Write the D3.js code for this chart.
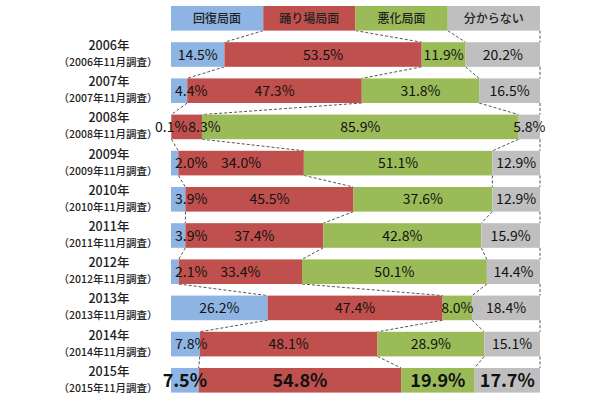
<!DOCTYPE html>
<html>
<head>
<meta charset="utf-8">
<script src="https://cdn.jsdelivr.net/npm/d3@7"></script>
<style>
  body { margin: 0; background: #fff; }
  svg text { font-family: "Noto Sans CJK JP", "Noto Sans", sans-serif; }
</style>
</head>
<body>
<svg id="viz"></svg>
<script>
const svg = d3.select("#viz");
const width = 610;
const height = 400;
svg.attr("width", width).attr("height", height);

// data
const seriesNames = ["回復局面", "踊り場局面", "悪化局面", "分からない"];
const years = ["2006", "2007", "2008", "2009", "2010", "2011", "2012", "2013", "2014", "2015"];
const recovery = [14.5, 4.4, 0.1, 2.0, 3.9, 3.9, 2.1, 26.2, 7.8, 7.5];
const plateau  = [53.5, 47.3, 8.3, 34.0, 45.5, 37.4, 33.4, 47.4, 48.1, 54.8];
const worsening = [11.9, 31.8, 85.9, 51.1, 37.6, 42.8, 50.1, 8.0, 28.9, 19.9];
const unknown  = [20.2, 16.5, 5.8, 12.9, 12.9, 15.9, 14.4, 18.4, 15.1, 17.7];

const colors = ["#8DB4E2", "#C0504D", "#9BBB59", "#BFBFBF"];

// rows: header (legend) + one per year
const rows = [{ key: "header", values: [25, 25, 25, 25], labels: seriesNames }]
  .concat(years.map((y, i) => {
    const v = [recovery[i], plateau[i], worsening[i], unknown[i]];
    return { key: y, values: v, labels: v.map(d => d.toFixed(1) + "%") };
  }));

// cumulative, normalised to 100 like a 100% stacked bar
rows.forEach(r => {
  const total = d3.sum(r.values);
  let acc = 0;
  r.segs = r.values.map((v, i) => {
    const s = { i, x0: acc / total * 100, x1: (acc + v) / total * 100, label: r.labels[i] };
    acc += v;
    return s;
  });
});

const x = d3.scaleLinear().domain([0, 100]).range([171, 540]);
const y = d3.scaleBand().domain(rows.map(r => r.key)).range([6, 392.6]).paddingInner(0.32).paddingOuter(0);
const bh = y.bandwidth();

// series lines (dashed connectors between bars)
const lines = svg.append("g");
for (let r = 0; r < rows.length - 1; r++) {
  const a = rows[r], b = rows[r + 1];
  for (let i = 0; i < 4; i++) {
    lines.append("line")
      .attr("x1", x(a.segs[i].x1)).attr("y1", y(a.key) + bh)
      .attr("x2", x(b.segs[i].x1)).attr("y2", y(b.key))
      .attr("stroke", "#555").attr("stroke-width", 1)
      .attr("stroke-dasharray", "3,2");
  }
}

// bars
const rowG = svg.selectAll("g.row").data(rows).enter()
  .append("g").attr("class", "row")
  .attr("transform", d => `translate(0,${y(d.key)})`);

rowG.selectAll("rect").data(d => d.segs).enter()
  .append("rect")
  .attr("x", d => x(d.x0))
  .attr("width", d => Math.max(0, x(d.x1) - x(d.x0)))
  .attr("y", 0)
  .attr("height", bh)
  .attr("fill", d => colors[d.i]);

// segment labels
rowG.each(function(r) {
  const g = d3.select(this);
  const isHeader = r.key === "header";
  const bold = r.key === "2015";
  let prevEnd = -Infinity;
  r.segs.forEach(s => {
    const t = g.append("text")
      .attr("y", bh / 2)
      .attr("dy", "0.36em")
      .attr("text-anchor", "middle")
      .attr("fill", isHeader ? "#222" : "#111")
      .attr("font-size", isHeader ? 12 : bold ? 18 : 14)
      .attr("font-weight", bold ? "bold" : isHeader ? 500 : "normal")
      .text(s.label);
    const w = t.node().getComputedTextLength();
    let cx = (x(s.x0) + x(s.x1)) / 2;
    // small first segments: Excel label pushed inside the bar start
    if (!isHeader && !bold && s.i === 0 && r.key !== "2008" && x(s.x1) - x(s.x0) < w) {
      cx = x(0) + 4 + w / 2;
    }
    // avoid overlapping the previous label
    if (!isHeader && cx - w / 2 < prevEnd) cx = prevEnd + 1 + w / 2;
    t.attr("x", cx);
    prevEnd = cx + w / 2;
  });
});

// year labels on the left
const yl = svg.append("g");
years.forEach(yr => {
  const cy = y(yr) + bh / 2;
  yl.append("text")
    .attr("x", 109).attr("y", cy - 4.5)
    .attr("text-anchor", "middle")
    .attr("font-size", 12.5).attr("font-weight", 500).attr("fill", "#222")
    .text(yr + "年");
  yl.append("text")
    .attr("x", 108).attr("y", cy + 11.5)
    .attr("text-anchor", "middle")
    .attr("font-size", 10.5).attr("font-weight", 500).attr("fill", "#222")
    .text("（" + yr + "年11月調査）");
});
</script>
</body>
</html>
